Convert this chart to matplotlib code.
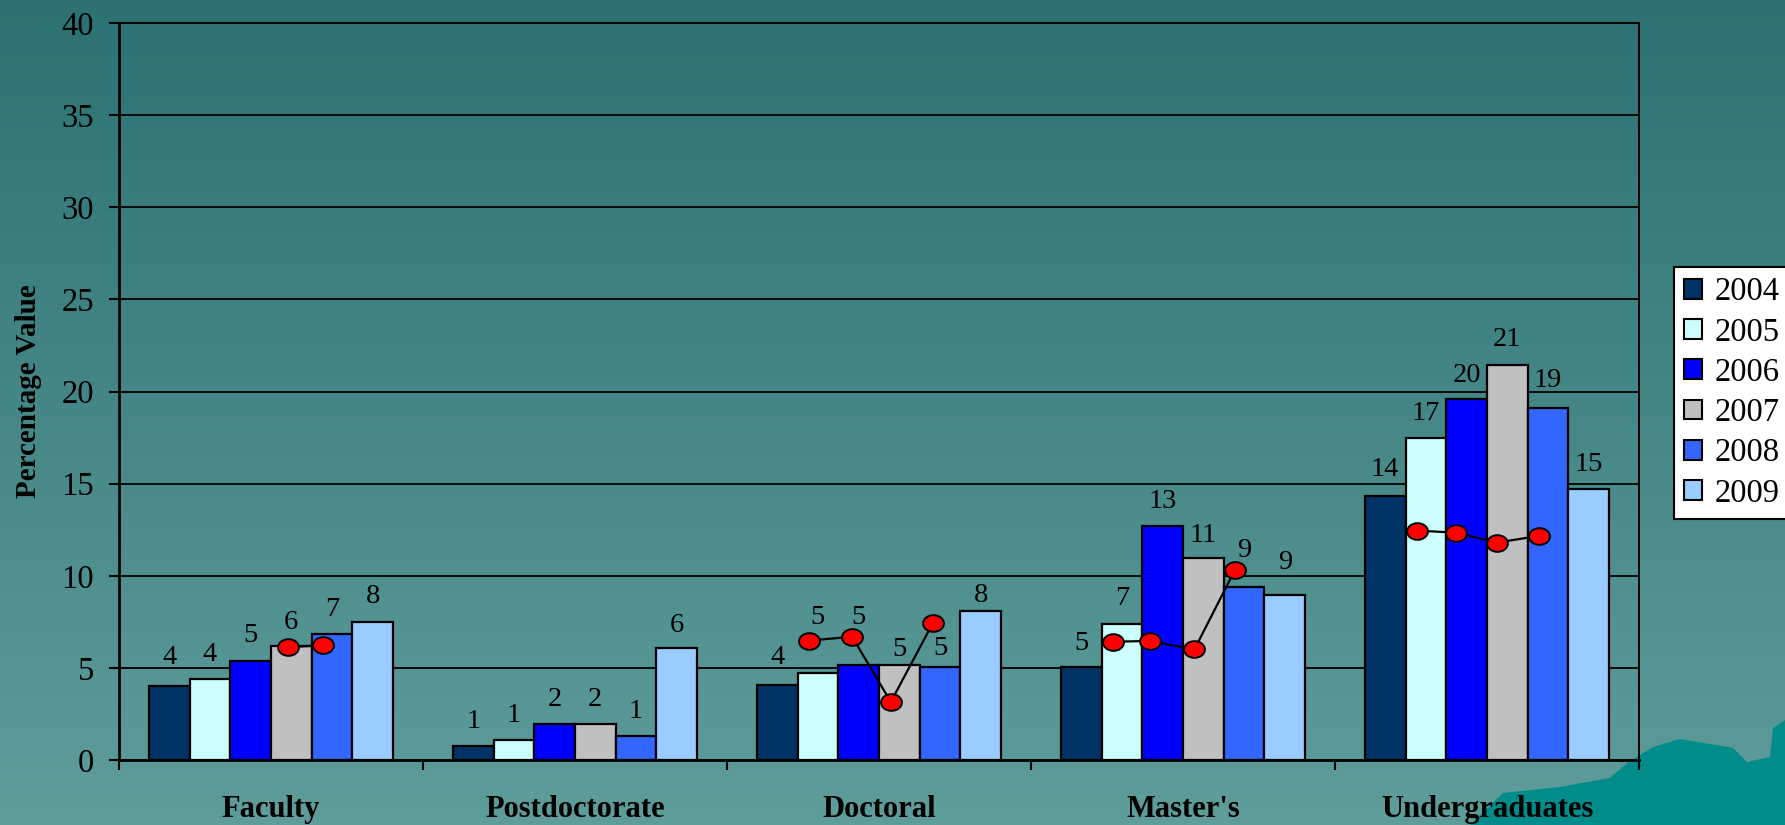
import numpy as np
import matplotlib
matplotlib.use("Agg")
import matplotlib.pyplot as plt
from matplotlib.colors import LinearSegmentedColormap
from matplotlib.patches import Polygon, Patch
from matplotlib.path import Path
from matplotlib.transforms import Affine2D

plt.rcParams['font.family'] = ['Liberation Serif', 'DejaVu Serif']

# data
categories = ['Faculty', 'Postdoctorate', 'Doctoral', "Master's", 'Undergraduates']
years = ['2004', '2005', '2006', '2007', '2008', '2009']
values = {
    '2004': [4.0, 0.78, 4.09, 5.06, 14.35],
    '2005': [4.4, 1.09, 4.74, 7.4, 17.45],
    '2006': [5.39, 1.95, 5.17, 12.7, 19.57],
    '2007': [6.17, 1.95, 5.17, 10.94, 21.44],
    '2008': [6.84, 1.32, 5.06, 9.41, 19.09],
    '2009': [7.5, 6.06, 8.07, 8.94, 14.69],
}
bar_labels = {
    '2004': [4, 1, 4, 5, 14],
    '2005': [4, 1, 5, 7, 17],
    '2006': [5, 2, 5, 13, 20],
    '2007': [6, 2, 5, 11, 21],
    '2008': [7, 1, 5, 9, 19],
    '2009': [8, 6, 8, 9, 15],
}
colors = ['#003366', '#CCFFFF', '#0000FF', '#C0C0C0', '#3366FF', '#99CCFF']

# red dots drawn over the bars (category index, bar slot, value)
dot_groups = [
    (0, [2.91, 3.77], [6.12, 6.23]),
    (2, [0.78, 1.84, 2.79, 3.82], [6.48, 6.69, 3.15, 7.42]),
    (3, [0.77, 1.69, 2.78, 3.77], [6.42, 6.46, 6.0, 10.29]),
    (4, [0.78, 1.74, 2.74, 3.77], [12.45, 12.34, 11.8, 12.16]),
]

# how far (px) each value label sits above its bar; some were moved by hand
label_lift = {
    '2004': [29, 24, 27, 23, 26],
    '2005': [24, 24, 55, 25, 25],
    '2006': [25, 25, 47, 25, 24],
    '2007': [24, 25, 15, 23, 25],
    '2008': [24, 24, 18, 36, 28],
    '2009': [25, 23, 16, 33, 25],
}

W, H = 1785, 825
fig = plt.figure(figsize=(W / 100, H / 100), dpi=100)

# gradient background + hills in the corner
bg = fig.add_axes([0, 0, 1, 1], zorder=-5)
cmap = LinearSegmentedColormap.from_list('bg', ['#2C7272', '#5F9D9B'])
bg.imshow(np.linspace(0, 1, 256).reshape(-1, 1), aspect='auto', cmap=cmap,
          extent=[0, W, H, 0])
hill = [(1470, 825), (1503, 793), (1560, 787), (1610, 778), (1627, 763),
        (1653, 747), (1680, 739), (1733, 748), (1747, 762), (1770, 757),
        (1773, 728), (1785, 720), (1785, 825)]
bg.add_patch(Polygon(hill, closed=True, facecolor='#008C8A', edgecolor='none'))
bg.set_xlim(0, W)
bg.set_ylim(H, 0)
bg.axis('off')

ax = fig.add_axes([119 / W, 1 - 760 / H, (1639 - 119) / W, (760 - 23) / H])
ax.set_facecolor('none')

x = np.arange(len(categories))
w = 0.134
for i, yr in enumerate(years):
    xs = x + (i - 2.5) * w
    ax.bar(xs, values[yr], width=w, color=colors[i], edgecolor='black',
           linewidth=1.6, zorder=3, label=yr)
    for xi, v, lab, lift in zip(xs, values[yr], bar_labels[yr], label_lift[yr]):
        ax.annotate(str(lab), (xi, v), xytext=(0, lift * 0.72), textcoords='offset points',
                    ha='center', va='center', fontsize=20.5, zorder=5)

ell = Path(Affine2D().scale(1.25, 1.0).transform(Path.unit_circle().vertices),
           Path.unit_circle().codes)
for ci, slots, vals in dot_groups:
    xs = ci + (np.array(slots) - 2.5) * w
    ax.plot(xs, vals, color='black', linewidth=1.6, marker=ell, markersize=15,
            markerfacecolor='#FF0000', markeredgecolor='black',
            markeredgewidth=1.4, zorder=4)

ax.set_xlim(-0.5, 4.5)
ax.set_ylim(0, 40)
ax.set_yticks(np.arange(0, 41, 5))
ax.yaxis.grid(True, color='black', linewidth=1.3, zorder=1)
ax.set_axisbelow(True)
ax.tick_params(axis='y', labelsize=23.5, length=7, width=1.5, pad=11)
ax.set_xticks(np.arange(-0.5, 4.6, 1))
ax.set_xticklabels([])
ax.set_xticks(x, minor=True)
ax.set_xticklabels(categories, minor=True, fontsize=22, fontweight='bold')
ax.tick_params(axis='x', which='major', length=7, width=1.5, direction='out')
ax.tick_params(axis='x', which='minor', length=0, pad=25)
for s in ax.spines.values():
    s.set_color('black')
    s.set_linewidth(1.4)
ax.spines['left'].set_linewidth(2)
ax.spines['bottom'].set_linewidth(2)
ax.set_ylabel('Percentage Value', fontsize=21, fontweight='bold', labelpad=14)

handles = [Patch(facecolor=c, edgecolor='black', linewidth=1.5) for c in colors]
leg = fig.legend(handles, years, loc='upper left', bbox_to_anchor=(1674 / W, 1 - 267 / H),
                 frameon=True, fancybox=False, edgecolor='black', framealpha=1,
                 fontsize=23.5, handlelength=0.55, handleheight=0.55, handletextpad=0.4,
                 labelspacing=0.3, borderpad=0.3, borderaxespad=0)
leg.get_frame().set_linewidth(1.5)

fig.savefig('out.png', dpi=100)
